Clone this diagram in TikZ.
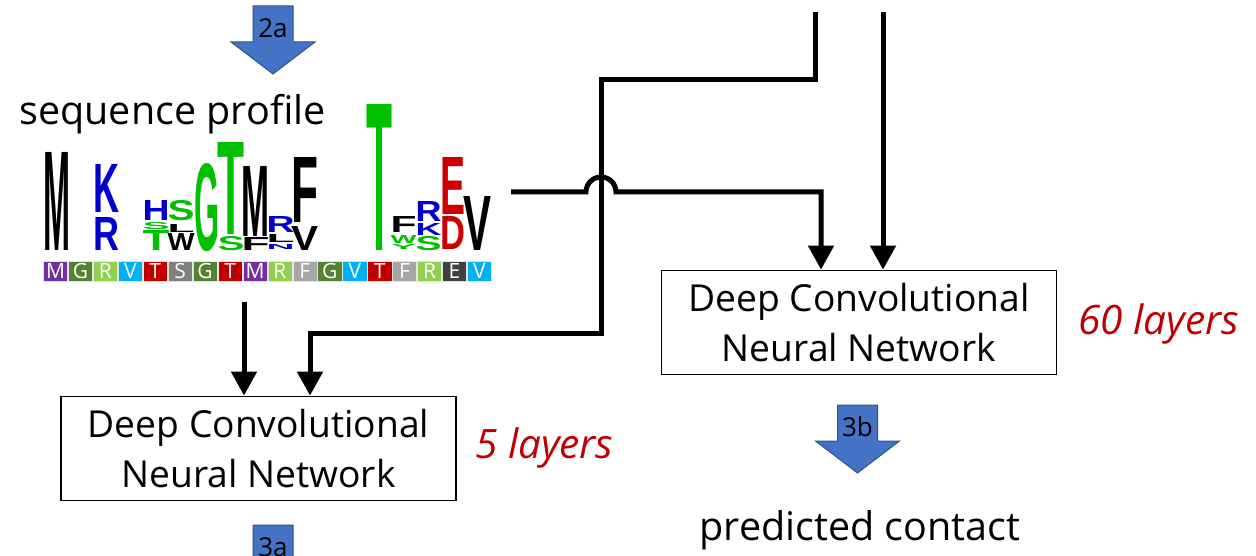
\documentclass[tikz,border=0pt]{standalone}
\usepackage{fontspec}
\usepackage{graphicx}
\setmainfont{Open Sans}
\newfontfamily\logofont{Liberation Sans}
\usetikzlibrary{arrows.meta}

\definecolor{fatfill}{HTML}{4472C4}
\definecolor{fatedge}{HTML}{2F528F}
\definecolor{layerred}{HTML}{C00000}
\definecolor{lgblack}{HTML}{000000}
\definecolor{lgblue}{HTML}{0000CC}
\definecolor{lggreen}{HTML}{00C000}
\definecolor{lgred}{HTML}{CC0000}
\definecolor{cpur}{HTML}{7030A0}
\definecolor{cdg}{HTML}{548235}
\definecolor{clg}{HTML}{92D050}
\definecolor{ccy}{HTML}{00B0F0}
\definecolor{cdr}{HTML}{C00000}
\definecolor{cgr}{HTML}{7F7F7F}
\definecolor{clgr}{HTML}{A6A6A6}
\definecolor{cdgr}{HTML}{404040}

% one stretched letter of the sequence logo: x0, x1, ytop, ybottom, colour, letter
% (the box is widened a little so that the glyph itself, without its side
% bearings, fills the column)
\newcount\ltrno
\newcommand{\ltr}[6]{\global\advance\ltrno by 1
  \node[logoltr, text=#5] (ltr\the\ltrno) at (#1-1.5,#4)
    {\resizebox{\dimexpr #2pt-#1pt+3pt\relax}{\dimexpr #4pt-#3pt\relax}{#6}};}

% block arrow with a label in its shaft: name, centre x, top y, label
\newcommand{\fatarrow}[4]{%
  \path[fatarrow] (#2-20,#3) -- (#2+20,#3) -- (#2+20,#3+36) -- (#2+42,#3+36)
    -- (#2,#3+68) -- (#2-42,#3+36) -- (#2-20,#3+36) -- cycle;
  \node[fatlabel] (#1) at (#2,#3+22) {#4};}

\begin{document}
\begin{tikzpicture}[x=1pt,y=-1pt,
  conn/.style={line width=5pt, line join=miter},
  tipped/.style={-{Triangle[length=24pt,width=25pt]}},
  dcnn/.style={draw, line width=1.8pt, minimum width=395pt, minimum height=104pt,
    align=center, inner sep=0pt, font=\fontsize{37.2}{50}\selectfont},
  layers/.style={text=layerred, font=\fontsize{40.5}{42}\selectfont\itshape, anchor=base west, inner sep=0pt},
  caption/.style={anchor=base, inner sep=0pt},
  fatarrow/.style={fill=fatfill, draw=fatedge, line width=1pt},
  fatlabel/.style={font=\fontsize{26}{28}\selectfont, inner sep=0pt},
  logoltr/.style={anchor=south west, inner sep=0pt, font=\logofont\bfseries},
  cell/.style={minimum width=24.2pt, minimum height=20pt, inner sep=0pt,
    draw=white!80!gray, line width=0.6pt, text=white, font=\fontsize{21}{22}\selectfont}
]
\useasboundingbox (0,0) rectangle (1256,556);
\clip (0,0) rectangle (1256,556);

% step arrows
\fatarrow{lbl2a}{273}{6}{2a}
\fatarrow{lbl3b}{857.5}{405}{3b}
\fatarrow{lbl3a}{273}{525}{3a}

% captions
\node[caption, font=\fontsize{39.5}{42}\selectfont] (seqprof) at (172.5,125) {sequence profile};
\node[caption, font=\fontsize{39.5}{42}\selectfont] (predcon) at (860,540) {predicted contact};

% sequence logo
\node[inner sep=0pt, minimum width=450pt, minimum height=140pt] (logo) at (267,212) {};
\ltr{45}{69}{153}{251}{lgblack}{M}
\ltr{95}{118}{165}{213}{lgblue}{K}
\ltr{95}{118}{218}{251}{lgblue}{R}
\ltr{144}{168}{201}{221}{lgblue}{H}
\ltr{144}{168}{223}{230}{lggreen}{S}
\ltr{144}{168}{231}{251}{lggreen}{T}
\ltr{169}{193}{201}{221}{lggreen}{S}
\ltr{169}{193}{225}{233}{lgblack}{L}
\ltr{169}{193}{234}{251}{lgblack}{W}
\ltr{196}{218}{165}{252}{lggreen}{G}
\ltr{219}{243}{143}{235}{lggreen}{T}
\ltr{219}{243}{237}{251}{lggreen}{S}
\ltr{243}{268}{167}{237}{lgblack}{M}
\ltr{243}{268}{238}{251}{lgblack}{F}
\ltr{268}{293}{217}{233}{lgblue}{R}
\ltr{268}{293}{235}{243}{lgblack}{L}
\ltr{268}{293}{245}{250}{lgblue}{N}
\ltr{293}{317}{158}{223}{lgblack}{F}
\ltr{293}{317}{227}{251}{lgblack}{V}
\ltr{368}{391}{105}{251}{lggreen}{T}
\ltr{392}{415}{217}{233}{lgblack}{F}
\ltr{392}{415}{236}{244}{lggreen}{W}
\ltr{392}{415}{245}{250}{lggreen}{Y}
\ltr{417}{440}{202}{222}{lgblue}{R}
\ltr{417}{440}{224}{236}{lgblue}{K}
\ltr{417}{440}{237}{251}{lggreen}{S}
\ltr{442}{464}{158}{215}{lgred}{E}
\ltr{442}{464}{217}{250}{lgred}{D}
\ltr{465}{490}{197}{251}{lgblack}{V}

% consensus sequence under the logo
\foreach \l/\c [count=\i from 0] in {M/cpur,G/cdg,R/clg,V/ccy,T/cdr,S/cgr,G/cdg,T/cdr,M/cpur,
    R/clg,F/clgr,G/cdg,V/ccy,T/cdr,F/clgr,R/clg,E/cdgr,V/ccy}
  \node[cell, fill=\c] (cell\i) at ({55.5+24.94*\i},271) {\l};

% networks
\node[dcnn] (dcnn1) at (258.5,448.5) {Deep Convolutional\\Neural Network};
\node[dcnn] (dcnn2) at (859,322.5) {Deep Convolutional\\Neural Network};
\node[layers] (lay5) at (475,458) {5 layers};
\node[layers] (lay60) at (1078,334) {60 layers};

% connectors
\coordinate (top1) at (815.5,12);
\coordinate (top2) at (883,12);
\coordinate (k1) at (601,80);
\coordinate (k2) at (310,333);
\coordinate (pa) at (244,302);
\coordinate (l0) at (511,192);

\draw[conn,tipped] (pa) -- (pa |- dcnn1.north);
\draw[conn,tipped] (top1) |- (k1) |- (k2) -- (k2 |- dcnn1.north);
\draw[conn,tipped] (top2) -- (top2 |- dcnn2.north);
\draw[conn,tipped] (l0) -- (586,192) arc[start angle=180, end angle=360, radius=15]
  -- (821,192) -- (821,192 |- dcnn2.north);
\end{tikzpicture}
\end{document}
